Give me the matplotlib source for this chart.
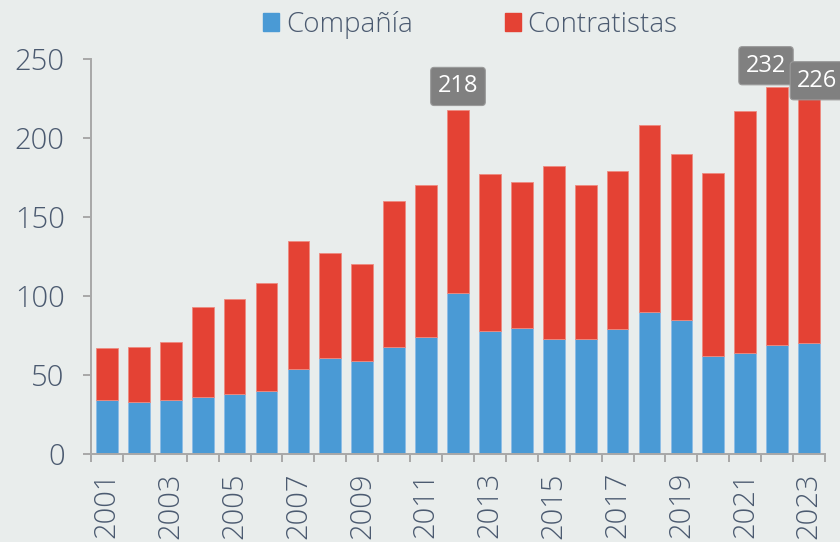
import matplotlib.pyplot as plt
from matplotlib.patches import Patch

years = list(range(2001, 2024))
compania = [34, 33, 34, 36, 38, 40, 54, 61, 59, 68, 74, 102, 78, 80, 73, 73, 79, 90, 85, 62, 64, 69, 70]
contratistas = [33, 35, 37, 57, 60, 68, 81, 66, 61, 92, 96, 116, 99, 92, 109, 97, 100, 118, 105, 116, 153, 163, 156]
y_ticks = [0, 50, 100, 150, 200, 250]
# años destacados con etiqueta del total
destacados = {2012: (0, 8), 2022: (-8, 7), 2023: (6, 3)}

BG = '#e9edec'
AZUL = '#4a9ad5'
ROJO = '#e44234'
GRIS = '#a8a8a8'
TXT = '#4b5a70'

plt.rcParams['font.family'] = ['Open Sans', 'DejaVu Sans']

fig = plt.figure(figsize=(8.4, 5.42), dpi=100, facecolor=BG)
ax = fig.add_axes([91 / 840, 1 - 454 / 542, (825 - 91) / 840, (454 - 59) / 542])
ax.set_facecolor(BG)

x = list(range(len(years)))
ax.bar(x, compania, width=0.68, color=AZUL, edgecolor='#8cbde6', linewidth=0.6)
ax.bar(x, contratistas, width=0.68, bottom=compania, color=ROJO,
       edgecolor='#ee8a80', linewidth=0.6)

totales = [a + b for a, b in zip(compania, contratistas)]
for year, (dx, dy) in destacados.items():
    i = years.index(year)
    ax.annotate(str(totales[i]), xy=(i, totales[i]), xytext=(dx, dy),
                textcoords='offset points', ha='center', va='bottom',
                fontsize=17, color='white', annotation_clip=False,
                bbox=dict(boxstyle='round,pad=0.3,rounding_size=0.15',
                          fc='#808080', ec='#9a9a9a', lw=0.8))

ax.set_xlim(-0.5, len(years) - 0.5)
ax.set_ylim(0, 250)
ax.set_yticks(y_ticks)
ax.set_yticklabels([str(v) for v in y_ticks], fontsize=21, color=TXT, fontweight='light')
ax.tick_params(axis='y', length=6, width=1.4, color=GRIS, pad=13)

# ticks mayores en los límites entre barras, etiquetas en el centro
ax.set_xticks([i - 0.5 for i in range(len(years) + 1)])
ax.set_xticklabels([])
ax.tick_params(axis='x', which='major', length=6, width=1.4, color=GRIS)
ax.set_xticks(x[::2], minor=True)
ax.set_xticklabels([str(y) for y in years[::2]], minor=True, rotation=90,
                   fontsize=21, color=TXT, fontweight='light', va='top')
ax.tick_params(axis='x', which='minor', length=0, pad=13)

for s in ['top', 'right']:
    ax.spines[s].set_visible(False)
for s in ['left', 'bottom']:
    ax.spines[s].set_color(GRIS)
    ax.spines[s].set_linewidth(1.4)

handles = [Patch(color=AZUL, label='Compañía'), Patch(color=ROJO, label='Contratistas')]
leg = fig.legend(handles=handles, loc='center', bbox_to_anchor=(0.56, 0.954), ncol=2,
                 frameon=False, fontsize=20, handlelength=0.58, handleheight=0.58,
                 handletextpad=0.25, columnspacing=3.3)
for t in leg.get_texts():
    t.set_color(TXT)
    t.set_fontweight('light')

fig.savefig('out.png', dpi=100, facecolor=BG)
